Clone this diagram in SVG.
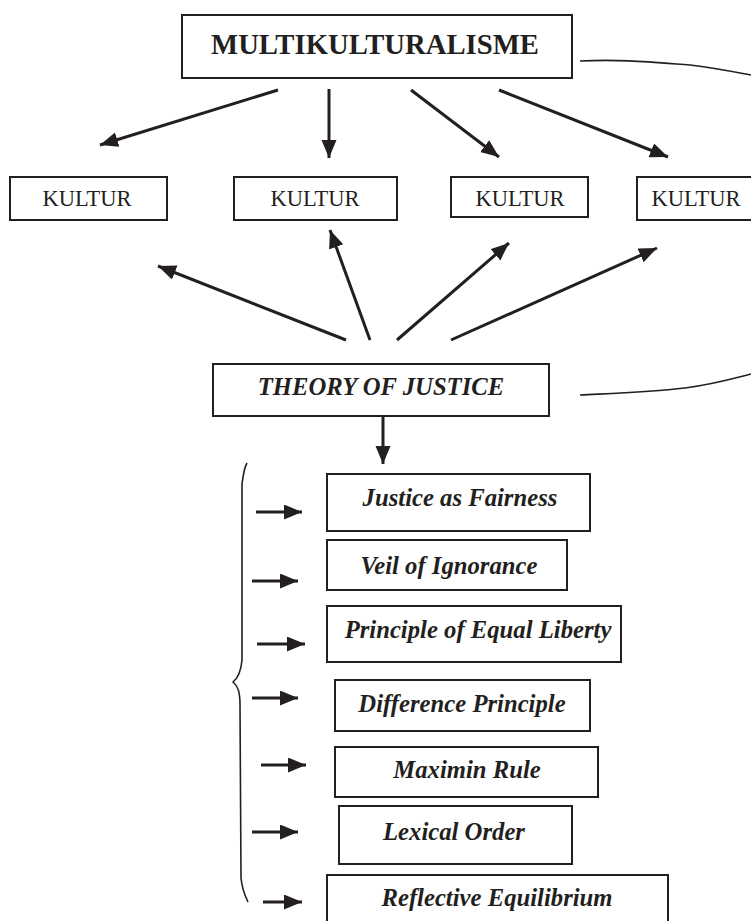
<svg xmlns="http://www.w3.org/2000/svg" width="751" height="921" viewBox="0 0 751 921">
<style>
.box{fill:#fff;stroke:#231f20;stroke-width:2}
.t{font-family:"Liberation Serif","Times New Roman",serif;fill:#231f20;text-anchor:middle}
.b{font-weight:bold}
.bi{font-weight:bold;font-style:italic;font-size:24.7px}
.k{font-size:22.5px}
.c{fill:none;stroke:#231f20;stroke-width:3}
.thin{fill:none;stroke:#231f20;stroke-width:1.6}
</style>
<defs>
<marker id="ah" markerUnits="userSpaceOnUse" markerWidth="20" markerHeight="16" refX="18" refY="7.5" orient="auto">
<path d="M0,0 L18,7.5 L0,15 Z" fill="#231f20"/>
</marker>
</defs>
<rect width="751" height="921" fill="#fff"/>
<g id="connectors">
<path class="thin" d="M580,61 C620,59 650,62 690,65 C715,68 735,72 751,75"/>
<path class="thin" d="M580,395 C620,393 650,392 685,388 C715,384 735,378 751,374"/>
<line class="c" x1="278" y1="90" x2="100" y2="145" marker-end="url(#ah)"/>
<line class="c" x1="329" y1="89" x2="329" y2="158" marker-end="url(#ah)"/>
<line class="c" x1="411" y1="90" x2="499" y2="157" marker-end="url(#ah)"/>
<line class="c" x1="499" y1="90" x2="668" y2="157" marker-end="url(#ah)"/>
<line class="c" x1="346" y1="340" x2="158" y2="266" marker-end="url(#ah)"/>
<line class="c" x1="370" y1="340" x2="330" y2="230" marker-end="url(#ah)"/>
<line class="c" x1="397" y1="340" x2="509" y2="243" marker-end="url(#ah)"/>
<line class="c" x1="451" y1="340" x2="657" y2="248" marker-end="url(#ah)"/>
<line class="c" x1="383" y1="417" x2="383" y2="464" marker-end="url(#ah)"/>
<path class="thin" d="M247,463 C244,468 243,476 242,484 C242,540 242,600 242,660 C241,672 238,678 233,682 C238,686 240,692 240,705 C240,770 241,830 241,878 C242,888 245,896 248,902"/>
<line class="c" x1="256" y1="512" x2="302" y2="512" marker-end="url(#ah)"/>
<line class="c" x1="252" y1="581" x2="298" y2="581" marker-end="url(#ah)"/>
<line class="c" x1="257" y1="644" x2="305" y2="644" marker-end="url(#ah)"/>
<line class="c" x1="252" y1="698" x2="298" y2="698" marker-end="url(#ah)"/>
<line class="c" x1="261" y1="765" x2="306" y2="765" marker-end="url(#ah)"/>
<line class="c" x1="252" y1="832" x2="298" y2="832" marker-end="url(#ah)"/>
<line class="c" x1="263" y1="902" x2="302" y2="902" marker-end="url(#ah)"/>
</g>
<g id="multikulturalisme"><rect class="box" x="182" y="15" width="390" height="63"/><text class="t b" x="375" y="54" font-size="28.7">MULTIKULTURALISME</text></g>
<g id="kultur1"><rect class="box" x="10" y="177" width="157" height="43"/><text class="t k" x="87" y="206">KULTUR</text></g>
<g id="kultur2"><rect class="box" x="234" y="177" width="163" height="43"/><text class="t k" x="315" y="206">KULTUR</text></g>
<g id="kultur3"><rect class="box" x="451" y="177" width="137" height="40"/><text class="t k" x="520" y="206">KULTUR</text></g>
<g id="kultur4"><rect class="box" x="637" y="177" width="130" height="43"/><text class="t k" x="696" y="206">KULTUR</text></g>
<g id="theory"><rect class="box" x="213" y="364" width="336" height="52"/><text class="t bi" x="381" y="395">THEORY OF JUSTICE</text></g>
<g id="n1"><rect class="box" x="327" y="474" width="263" height="57"/><text class="t bi" x="460" y="506">Justice as Fairness</text></g>
<g id="n2"><rect class="box" x="327" y="540" width="240" height="50"/><text class="t bi" x="449" y="574">Veil of Ignorance</text></g>
<g id="n3"><rect class="box" x="327" y="606" width="294" height="56"/><text class="t bi" x="478" y="638">Principle of Equal Liberty</text></g>
<g id="n4"><rect class="box" x="335" y="680" width="255" height="51"/><text class="t bi" x="462" y="712">Difference Principle</text></g>
<g id="n5"><rect class="box" x="335" y="747" width="263" height="50"/><text class="t bi" x="467" y="778">Maximin Rule</text></g>
<g id="n6"><rect class="box" x="339" y="806" width="233" height="58"/><text class="t bi" x="454" y="840">Lexical Order</text></g>
<g id="n7"><rect class="box" x="327" y="875" width="341" height="60"/><text class="t bi" x="497" y="906">Reflective Equilibrium</text></g>
</svg>
